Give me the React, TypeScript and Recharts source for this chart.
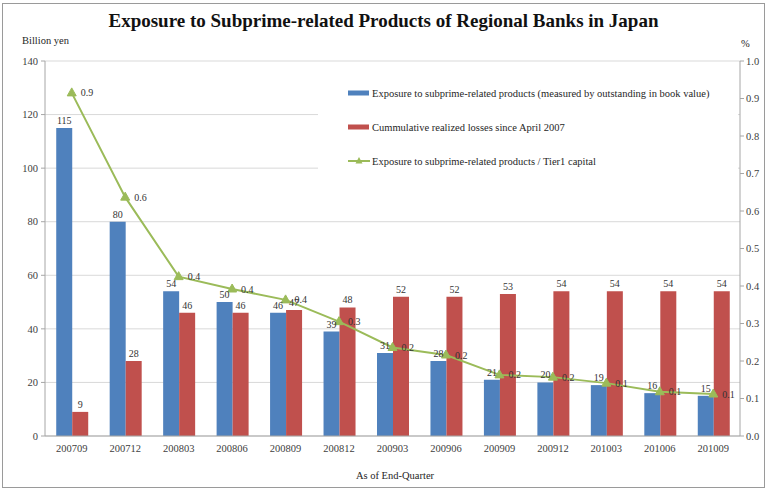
import {
  ComposedChart,
  Bar,
  Line,
  XAxis,
  YAxis,
  CartesianGrid,
  Legend,
  LabelList,
} from "recharts";

const quarters = [
  "200709", "200712", "200803", "200806", "200809", "200812", "200903",
  "200906", "200909", "200912", "201003", "201006", "201009",
];
// billion yen
const exposure = [115, 80, 54, 50, 46, 39, 31, 28, 21, 20, 19, 16, 15];
const realizedLosses = [9, 28, 46, 46, 47, 48, 52, 52, 53, 54, 54, 54, 54];
// percent of Tier1 capital
const tier1Ratio = [0.915, 0.637, 0.425, 0.392, 0.363, 0.305, 0.236, 0.216, 0.163, 0.157, 0.141, 0.118, 0.112];

const leftTicks = [0, 20, 40, 60, 80, 100, 120, 140];
const rightTicks = [0, 0.1, 0.2, 0.3, 0.4, 0.5, 0.6, 0.7, 0.8, 0.9, 1.0];

const seriesNames = [
  "Exposure to subprime-related products (measured by outstanding in book value)",
  "Cummulative realized losses since April 2007",
  "Exposure to subprime-related products / Tier1 capital",
];

const data = quarters.map((q, i) => ({
  quarter: q,
  exposure: exposure[i],
  losses: realizedLosses[i],
  ratio: tier1Ratio[i],
}));

const serif = "Liberation Serif, serif";
const BLUE = "#4F81BD";
const RED = "#C0504D";
const GREEN = "#9BBB59";
const tickStyle = { fontSize: 10.5, fill: "#404040", fontFamily: serif };
const labelStyle = { fontSize: 10, fill: "#333", fontFamily: serif };

const Triangle = (props: any) => {
  const { cx, cy } = props;
  if (cx == null || cy == null) return null;
  return (
    <polygon
      points={`${cx},${cy - 5} ${cx - 4.5},${cy + 3} ${cx + 4.5},${cy + 3}`}
      fill={GREEN}
      stroke={GREEN}
    />
  );
};

// keep the series order of the original legend
const LegendBox = (props: any) => {
  const payload = [...(props.payload || [])].sort(
    (a: any, b: any) => seriesNames.indexOf(a.value) - seriesNames.indexOf(b.value)
  );
  return (
    <div style={{ background: "#fff", paddingLeft: 30, height: 102 }}>
      {payload.map((entry: any) => (
        <div
          key={entry.value}
          style={{
            height: 34,
            display: "flex",
            alignItems: "center",
            fontFamily: serif,
            fontSize: 10.5,
            color: "#262626",
            whiteSpace: "nowrap",
          }}
        >
          <svg width={22} height={10} style={{ marginRight: 2 }}>
            {entry.type === "line" ? (
              <>
                <line x1={0} y1={5} x2={22} y2={5} stroke={GREEN} strokeWidth={2} />
                <polygon points="11,1 7.5,7.5 14.5,7.5" fill={GREEN} />
              </>
            ) : (
              <rect x={0} y={2.5} width={21} height={5} fill={entry.color} />
            )}
          </svg>
          <span>{entry.value}</span>
        </div>
      ))}
    </div>
  );
};

export default function App() {
  return (
    <div
      style={{
        position: "absolute",
        left: 0,
        top: 0,
        width: 767,
        height: 493,
        background: "#fff",
        fontFamily: serif,
      }}
    >
      <div
        style={{
          position: "absolute",
          left: 2,
          top: 3,
          width: 761,
          height: 483,
          border: "1px solid #9a9a9a",
        }}
      />
      <div
        style={{
          position: "absolute",
          left: 0,
          width: 767,
          top: 10,
          textAlign: "center",
          fontWeight: "bold",
          fontSize: 19,
          color: "#111",
        }}
      >
        Exposure to Subprime-related Products of Regional Banks in Japan
      </div>
      <div style={{ position: "absolute", left: 22, top: 35, fontSize: 10.5, color: "#262626" }}>
        Billion yen
      </div>
      <div style={{ position: "absolute", left: 741, top: 38, fontSize: 10.5, color: "#262626" }}>
        %
      </div>
      <div
        style={{
          position: "absolute",
          left: 0,
          width: 790,
          top: 470,
          textAlign: "center",
          fontSize: 10.5,
          color: "#262626",
        }}
      >
        As of End-Quarter
      </div>

      <ComposedChart
        width={767}
        height={493}
        data={data}
        margin={{ top: 61, right: 0, bottom: 37, left: 0 }}
        barCategoryGap="21%"
        barGap={0}
        style={{ position: "absolute", left: 0, top: 0 }}
      >
        <CartesianGrid yAxisId="left" vertical={false} stroke="#d9d9d9" />
        <XAxis
          dataKey="quarter"
          tick={tickStyle}
          tickLine={false}
          axisLine={{ stroke: "#a6a6a6" }}
          height={20}
          tickMargin={3}
          interval={0}
        />
        <YAxis
          yAxisId="left"
          domain={[0, 140]}
          ticks={leftTicks}
          width={45}
          tick={tickStyle}
          tickLine={{ stroke: "#a6a6a6" }}
          tickSize={4}
          tickMargin={3}
          axisLine={{ stroke: "#a6a6a6" }}
        />
        <YAxis
          yAxisId="right"
          orientation="right"
          domain={[0, 1]}
          ticks={rightTicks}
          width={27}
          tick={tickStyle}
          tickLine={{ stroke: "#a6a6a6" }}
          tickSize={4}
          tickMargin={2}
          axisLine={{ stroke: "#a6a6a6" }}
          tickFormatter={(v: number) => v.toFixed(1)}
        />
        <Legend
          layout="vertical"
          align="center"
          verticalAlign="middle"
          wrapperStyle={{ left: 318, top: 76, width: 420 }}
          content={<LegendBox />}
        />
        <Bar
          yAxisId="left"
          dataKey="exposure"
          name={seriesNames[0]}
          fill={BLUE}
          isAnimationActive={false}
        >
          <LabelList dataKey="exposure" position="top" offset={4} style={labelStyle} />
        </Bar>
        <Bar
          yAxisId="left"
          dataKey="losses"
          name={seriesNames[1]}
          fill={RED}
          isAnimationActive={false}
        >
          <LabelList dataKey="losses" position="top" offset={4} style={labelStyle} />
        </Bar>
        <Line
          yAxisId="right"
          type="linear"
          dataKey="ratio"
          name={seriesNames[2]}
          stroke={GREEN}
          strokeWidth={2}
          dot={<Triangle />}
          activeDot={false}
          isAnimationActive={false}
        >
          <LabelList
            dataKey="ratio"
            position="right"
            offset={9}
            formatter={(v: any) => Number(v).toFixed(1)}
            style={labelStyle}
          />
        </Line>
      </ComposedChart>
    </div>
  );
}
